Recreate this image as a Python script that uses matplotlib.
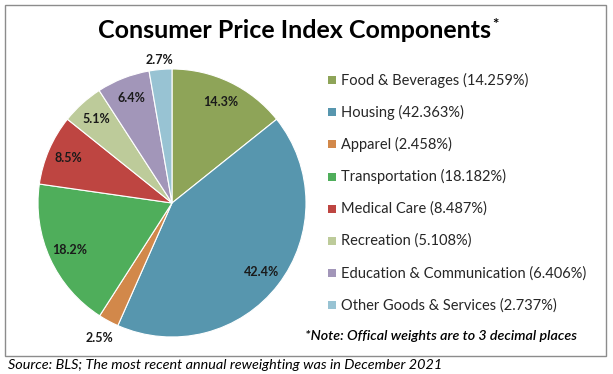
import matplotlib
matplotlib.use("Agg")
import matplotlib.pyplot as plt
from matplotlib.patches import Rectangle
import numpy as np

categories = ["Food & Beverages", "Housing", "Apparel", "Transportation",
              "Medical Care", "Recreation", "Education & Communication",
              "Other Goods & Services"]
weights = [14.259, 42.363, 2.458, 18.182, 8.487, 5.108, 6.406, 2.737]
colors = ["#8EA458", "#5796AE", "#D2884A", "#4FAE5B", "#BE4541",
          "#BDCB9A", "#A296B9", "#98C3D3"]

W, H = 613, 374
fig = plt.figure(figsize=(W / 100, H / 100), dpi=100)
FONT = "Lato"

def fx(x):
    return x / W

def fy(y):
    return 1 - y / H

# outer frame
fig.patches.append(Rectangle((fx(5), fy(356)), fx(601), 351 / H, transform=fig.transFigure,
                             fill=False, edgecolor="#8c8c8c", linewidth=1.0))

# title
fig.text(fx(294), fy(31), "Consumer Price Index Components", ha="center", va="center",
         fontsize=18, fontweight="bold", family=FONT, color="black")
fig.text(fx(492), fy(25), "*", ha="left", va="center", fontsize=11, fontweight="bold",
         family=FONT, color="black")

# pie
cx, cy, r = 172, 203, 134
ax = fig.add_axes([fx(cx - r), fy(cy + r), 2 * r / W, 2 * r / H])
wedges, _ = ax.pie(weights, colors=colors, startangle=90, counterclock=False,
                   wedgeprops=dict(edgecolor="white", linewidth=0.8), radius=1)
ax.set_xlim(-1, 1)
ax.set_ylim(-1, 1)
ax.set_aspect("auto")
ax.axis("off")

total = sum(weights)
cum = 0
label_r = {2: 1.14, 7: 1.07}
for i, w in enumerate(weights):
    mid = cum + w / 2
    cum += w
    ang = np.deg2rad(90 - mid / total * 360)
    rr = label_r.get(i, 0.84)
    ax.text(rr * np.cos(ang), rr * np.sin(ang), f"{w:.1f}%", ha="center", va="center",
            fontsize=9, fontweight="bold", family=FONT, color="#1a1a1a", clip_on=False)

# legend
y0, dy = 80, 32.2
for i, (c, col, w) in enumerate(zip(categories, colors, weights)):
    yy = y0 + i * dy
    fig.patches.append(Rectangle((fx(328), fy(yy + 4)), 8 / W, 8 / H,
                                 transform=fig.transFigure, facecolor=col, edgecolor="none"))
    fig.text(fx(341), fy(yy), f"{c} ({w:.3f}%)", ha="left", va="center",
             fontsize=10.5, family=FONT, color="#262626")

fig.text(fx(577), fy(336), "*Note: Offical weights are to 3 decimal places", ha="right",
         va="center", fontsize=10.3, style="italic", fontweight="semibold", family=FONT,
         color="black")

fig.text(fx(8), fy(365), "Source: BLS; The most recent annual reweighting was in December 2021",
         ha="left", va="center", fontsize=10.4, style="italic", family=FONT, color="black")

fig.savefig("out.png", dpi=100)
